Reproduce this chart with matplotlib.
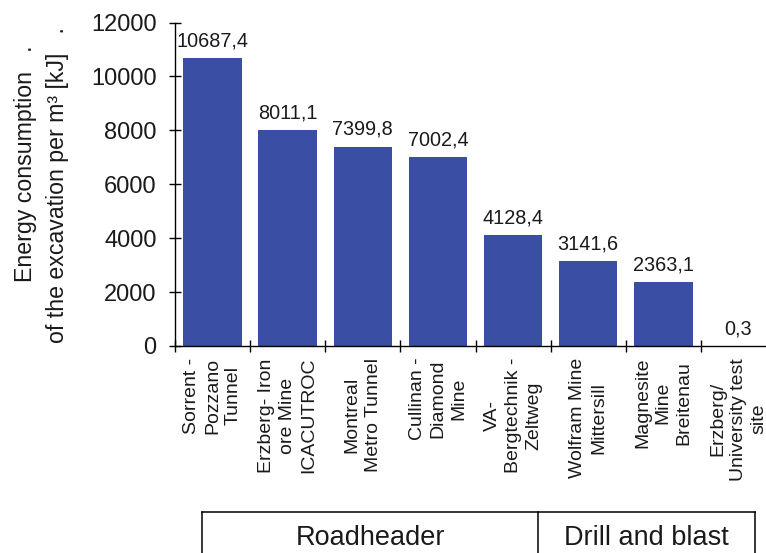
import matplotlib
matplotlib.use("Agg")
import matplotlib.pyplot as plt
from matplotlib.lines import Line2D

plt.rcParams["font.family"] = ["Liberation Sans", "DejaVu Sans"]

# Energy consumption per excavated cubic metre, by site
sites = [
    "Sorrent -\nPozzano\nTunnel",
    "Erzberg- Iron\nore Mine\nICACUTROC",
    "Montreal\nMetro Tunnel",
    "Cullinan -\nDiamond\nMine",
    "VA-\nBergtechnik -\nZeltweg",
    "Wolfram Mine\nMittersill",
    "Magnesite\nMine\nBreitenau",
    "Erzberg/\nUniversity test\nsite",
]
energy_kj = [10687.4, 8011.1, 7399.8, 7002.4, 4128.4, 3141.6, 2363.1, 0.3]
y_ticks = [0, 2000, 4000, 6000, 8000, 10000, 12000]
method_groups = ["Roadheader", "Drill and blast"]

W, H = 766, 553
DPI = 100
BAR_COLOR = "#3a4ea3"
TEXT_COLOR = "#1a1a1a"

fig = plt.figure(figsize=(W / DPI, H / DPI), dpi=DPI)


def fx(px):
    return px / W


def fy(py):
    return 1 - py / H


ax_l, ax_r, ax_t, ax_b = 175, 776, 22.5, 346
ax = fig.add_axes([fx(ax_l), fy(ax_b), fx(ax_r - ax_l), (ax_b - ax_t) / H])

x = list(range(len(sites)))
ax.bar(x, energy_kj, width=0.78, color=BAR_COLOR, zorder=2)

for xi, v in zip(x, energy_kj):
    label = f"{v:.1f}".replace(".", ",")
    ax.annotate(label, (xi, v), xytext=(0, 5.5), textcoords="offset points",
                ha="center", va="bottom", fontsize=14.3, color=TEXT_COLOR)

ax.set_xlim(-0.5, len(sites) - 0.5)
ax.set_ylim(0, 12000)
ax.set_yticks(y_ticks)
ax.set_yticklabels([str(t) for t in y_ticks])

# boundary ticks between categories, labels at category centres
ax.set_xticks([i - 0.5 for i in range(len(sites) + 1)])
ax.set_xticklabels([])
ax.set_xticks(x, minor=True)
ax.set_xticklabels(sites, minor=True, rotation=90, ha="center", va="top",
                   multialignment="center", fontsize=14, linespacing=1.3,
                   color=TEXT_COLOR)

ax.tick_params(axis="x", which="major", direction="inout", length=8, width=1)
ax.tick_params(axis="x", which="minor", length=0, pad=8.5)
ax.tick_params(axis="y", direction="inout", length=8.6, width=1, pad=9,
               labelsize=17, labelcolor=TEXT_COLOR)

for side in ("top", "right"):
    ax.spines[side].set_visible(False)
for side in ("left", "bottom"):
    ax.spines[side].set_linewidth(1)

# y-axis title, two lines
fig.text(fx(32), fy(282), "Energy consumption   .", rotation=90,
         rotation_mode="anchor", ha="left", va="baseline", fontsize=16.7,
         color=TEXT_COLOR)
fig.text(fx(64), fy(343), "of the excavation per m³ [kJ]   .", rotation=90,
         rotation_mode="anchor", ha="left", va="baseline", fontsize=16.7,
         color=TEXT_COLOR)

# grouping box under the category labels
box_top, box_bot = 512, 570
edges = [202, 538, 755]
fig.add_artist(Line2D([fx(edges[0]), fx(edges[-1])], [fy(box_top)] * 2,
                      color="black", lw=1.1, transform=fig.transFigure))
for e in edges:
    fig.add_artist(Line2D([fx(e)] * 2, [fy(box_top), fy(box_bot)],
                          color="black", lw=1.1, transform=fig.transFigure))
for name, a, b in zip(method_groups, edges[:-1], edges[1:]):
    fig.text(fx((a + b) / 2), fy(545), name, ha="center", va="baseline",
             fontsize=19.5, color=TEXT_COLOR)

fig.savefig("out.png", dpi=DPI)
